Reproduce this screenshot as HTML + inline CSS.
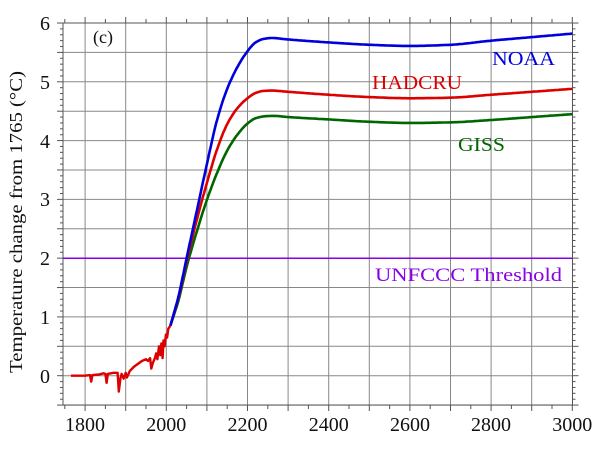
<!DOCTYPE html>
<html><head><meta charset="utf-8"><style>
html,body{margin:0;padding:0;background:#fff;}
svg{display:block;font-family:"Liberation Serif",serif;}
</style></head><body>
<svg id="s" width="600" height="463" xmlns="http://www.w3.org/2000/svg">
<g id="grid" stroke="#888" stroke-width="1"></g>
<g id="ticks" stroke="#555" stroke-width="1"></g>
<rect x="63" y="23" width="509.5" height="382" fill="none" stroke="#555" stroke-width="1"/>
<line x1="63" x2="572.5" y1="258.2" y2="258.2" stroke="#8a00e6" stroke-width="1.5"/>
<g id="curves" fill="none" stroke-width="2.6" stroke-linejoin="round"></g>
<g font-size="20" fill="#111" text-anchor="end">
<text x="50" y="30">6</text><text x="50" y="89">5</text><text x="50" y="148">4</text>
<text x="50" y="206">3</text><text x="50" y="265">2</text><text x="50" y="324">1</text><text x="50" y="383">0</text>
</g>
<g font-size="20" fill="#111" text-anchor="middle">
<text x="85" y="431" textLength="40" lengthAdjust="spacingAndGlyphs">1800</text><text x="166.3" y="431" textLength="40" lengthAdjust="spacingAndGlyphs">2000</text><text x="247.5" y="431" textLength="40" lengthAdjust="spacingAndGlyphs">2200</text>
<text x="328.7" y="431" textLength="40" lengthAdjust="spacingAndGlyphs">2400</text><text x="410" y="431" textLength="40" lengthAdjust="spacingAndGlyphs">2600</text><text x="491" y="431" textLength="40" lengthAdjust="spacingAndGlyphs">2800</text><text x="572.3" y="431" textLength="40" lengthAdjust="spacingAndGlyphs">3000</text>
</g>
<text transform="translate(22,222) rotate(-90)" font-size="18" fill="#111" text-anchor="middle" textLength="302" lengthAdjust="spacingAndGlyphs">Temperature change from 1765 (°C)</text>
<text x="93" y="43" font-size="18" fill="#111">(c)</text>
<text x="492" y="65" font-size="20" fill="#0000dd" textLength="63" lengthAdjust="spacingAndGlyphs">NOAA</text>
<text x="372" y="89" font-size="20" fill="#dd0000" textLength="90" lengthAdjust="spacingAndGlyphs">HADCRU</text>
<text x="458" y="151" font-size="20" fill="#006600" textLength="47" lengthAdjust="spacingAndGlyphs">GISS</text>
<text x="375" y="281" font-size="19" fill="#8a00e6" textLength="187" lengthAdjust="spacingAndGlyphs">UNFCCC Threshold</text>
</svg>
<script>
var X=function(t){return 166.3+(t-2000)*0.406;};
var Y=function(v){return 375.7-58.78*v;};
var g=document.getElementById('grid'),tk=document.getElementById('ticks'),ns='http://www.w3.org/2000/svg';
function L(p,a,b,c,d){var l=document.createElementNS(ns,'line');l.setAttribute('x1',a);l.setAttribute('y1',b);l.setAttribute('x2',c);l.setAttribute('y2',d);p.appendChild(l);}
for(var t=1800;t<=2900;t+=100){L(g,X(t),23,X(t),405);}
for(var v=-0.5;v<=5.6;v+=0.5){L(g,63,Y(v),572.5,Y(v));}
for(var t=1750;t<=3000;t+=50){var k=(t%100==0)?6:4;L(tk,X(t),405,X(t),405+k);L(tk,X(t),23,X(t),23-k);}
for(var i=-5;i<=60;i++){var v=i/10,k=(i%5==0)?6:3;L(tk,63,Y(v),63-k,Y(v));L(tk,572.5,Y(v),572.5+k,Y(v));}
function interp(pts){var n=pts.length,m=[];
for(var i=0;i<n;i++){if(i==0)m.push((pts[1][1]-pts[0][1])/(pts[1][0]-pts[0][0]));else if(i==n-1)m.push((pts[n-1][1]-pts[n-2][1])/(pts[n-1][0]-pts[n-2][0]));
else{var d0=(pts[i][1]-pts[i-1][1])/(pts[i][0]-pts[i-1][0]),d1=(pts[i+1][1]-pts[i][1])/(pts[i+1][0]-pts[i][0]);m.push(d0*d1<=0?0:2/(1/d0+1/d1));}}
var out=[];for(var i=0;i<n-1;i++){var x0=pts[i][0],x1=pts[i+1][0],h=x1-x0;for(var s=0;s<20;s++){var u=s/20;
var h00=2*u*u*u-3*u*u+1,h10=u*u*u-2*u*u+u,h01=-2*u*u*u+3*u*u,h11=u*u*u-u*u;
out.push([x0+u*h,h00*pts[i][1]+h10*h*m[i]+h01*pts[i+1][1]+h11*h*m[i+1]]);}}out.push(pts[n-1]);return out;}
var N=[[2010,0.85],[2030,1.35],[2050,2.0],[2075,2.8],[2100,3.6],[2125,4.35],[2150,4.88],[2175,5.25],[2200,5.52],[2220,5.67],[2240,5.73],[2260,5.745],[2300,5.72],[2400,5.67],[2500,5.63],[2600,5.61],[2700,5.63],[2800,5.7],[2900,5.76],[3000,5.82]];
var H=[[2010,0.85],[2030,1.33],[2050,1.95],[2075,2.65],[2100,3.28],[2125,3.85],[2150,4.28],[2175,4.55],[2200,4.72],[2220,4.81],[2240,4.845],[2260,4.85],[2300,4.83],[2400,4.78],[2500,4.74],[2600,4.72],[2700,4.73],[2800,4.78],[2900,4.83],[3000,4.88]];
var G=[[2010,0.85],[2030,1.28],[2050,1.85],[2075,2.45],[2100,2.99],[2125,3.45],[2150,3.83],[2175,4.1],[2200,4.29],[2220,4.38],[2245,4.415],[2265,4.42],[2300,4.4],[2400,4.36],[2500,4.32],[2600,4.3],[2700,4.31],[2800,4.35],[2900,4.4],[3000,4.45]];
function path(pts,col){var c=interp(pts);var d='';c.forEach(function(p,i){d+=(i?'L':'M')+X(p[0]).toFixed(1)+' '+Y(p[1]).toFixed(1);});
var e=document.createElementNS(ns,'path');e.setAttribute('d',d);e.setAttribute('stroke',col);document.getElementById('curves').appendChild(e);}
path(G,'#006600');path(H,'#dd0000');path(N,'#0000dd');
var hist=[[1765,0],[1800,0],[1812,0.01],[1815,-0.1],[1818,0.01],[1835,0.02],[1845,0.04],[1850,0.03],[1853,-0.12],[1856,0.03],[1870,0.05],[1880,0.05],[1883,-0.27],[1887,-0.05],[1890,0.03],[1895,-0.05],[1900,0.05],[1903,-0.03],[1910,0.08],[1920,0.15],[1930,0.2],[1940,0.25],[1950,0.28],[1955,0.25],[1960,0.3],[1963,0.12],[1967,0.22],[1972,0.3],[1975,0.38],[1978,0.28],[1982,0.5],[1985,0.35],[1988,0.55],[1991,0.3],[1993,0.6],[1996,0.5],[1999,0.7],[2002,0.65],[2005,0.8],[2010,0.85]];
var d='';hist.forEach(function(p,i){d+=(i?'L':'M')+X(p[0]).toFixed(1)+' '+Y(p[1]).toFixed(1);});
var e=document.createElementNS(ns,'path');e.setAttribute('d',d);e.setAttribute('stroke','#dd0000');e.setAttribute('stroke-width','2.4');document.getElementById('curves').appendChild(e);
</script>
</body></html>
